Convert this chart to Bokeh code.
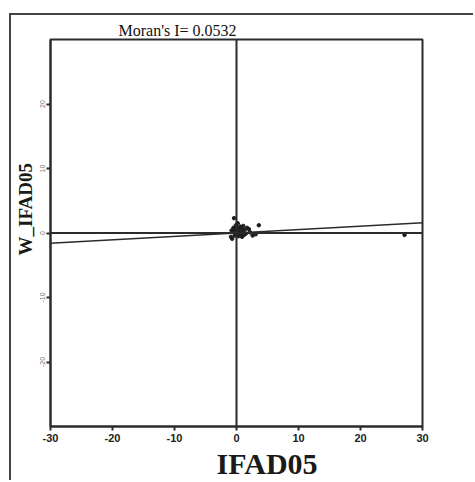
from bokeh.plotting import figure
from bokeh.models import Span, Slope, FixedTicker, Title, PrintfTickFormatter
from bokeh.embed import file_html
from bokeh.resources import INLINE

title_text = "Moran's I= 0.0532"
moran_i = 0.0532
x_label = "IFAD05"
y_label = "W_IFAD05"
x_ticks = [-30, -20, -10, 0, 10, 20, 30]
y_ticks = [-20, -10, 0, 10, 20]

ifad05 = [-0.9, -0.7, -0.6, -0.5, -0.4, -0.3, -0.2, -0.1, 0.0, 0.0, 0.1, 0.2, 0.3, 0.4,
          0.5, 0.6, 0.7, 0.8, 1.0, 1.1, 1.3, 1.5, 1.7, 2.0, 2.2, 2.6, 3.1, 3.6, -0.8,
          0.3, 0.9, 1.2, 27.1]
w_ifad05 = [-0.6, -0.9, 0.2, 0.8, 2.3, -0.4, 0.5, 1.2, -0.2, 0.9, 0.3, 1.5, -0.5, 0.6,
            0.1, 1.0, -0.3, 0.7, 0.2, 1.1, 0.5, -0.1, 0.8, 0.6, 0.1, -0.4, -0.2, 1.2, 0.4,
            0.0, -0.6, -0.3, -0.3]

DARK = "#2b2b2b"

p = figure(width=464, height=467, x_range=(-30, 30), y_range=(-30, 30),
           output_backend="svg", toolbar_location=None,
           min_border_left=36, min_border_right=53, min_border_top=24, min_border_bottom=56)
p.margin = (13, 0, 0, 9)
p.styles = {"border-top": "2px solid #444444", "border-left": "2px solid #444444"}
p.grid.visible = False
p.outline_line_color = DARK
p.outline_line_width = 2
p.background_fill_color = "white"
p.border_fill_color = "white"

# axes
p.xaxis.ticker = FixedTicker(ticks=x_ticks)
p.yaxis.ticker = FixedTicker(ticks=y_ticks)
for ax in (p.xaxis, p.yaxis):
    ax.formatter = PrintfTickFormatter(format="%d")
    ax.axis_line_color = DARK
    ax.axis_line_width = 2
    ax.major_tick_line_color = DARK
    ax.major_tick_line_width = 2
    ax.major_tick_in = 0
    ax.major_tick_out = 4
    ax.minor_tick_line_color = None
    ax.axis_label_standoff = 0
p.xaxis.major_label_text_font = "Liberation Sans"
p.xaxis.major_label_text_font_style = "bold"
p.xaxis.major_label_text_font_size = "11px"
p.xaxis.major_label_text_color = "#222222"
p.xaxis.major_label_standoff = 3
p.yaxis.major_label_text_font = "Liberation Sans"
p.yaxis.major_label_text_font_size = "7px"
p.yaxis.major_label_text_color = "#777777"
p.yaxis.major_label_orientation = "vertical"
p.yaxis.major_label_standoff = 2

# titles
p.title.text = title_text
p.title.text_font = "Liberation Serif"
p.title.text_font_style = "normal"
p.title.text_font_size = "16px"
p.title.text_color = "#111111"
p.title.align = "left"
p.title.offset = 68
p.title.standoff = 2

p.add_layout(Title(text=x_label, text_font="Liberation Serif", text_font_style="bold",
                   text_font_size="30px", text_color="#1a1a1a", align="left",
                   offset=166, standoff=0), "below")
p.add_layout(Title(text=y_label, text_font="Liberation Serif", text_font_style="bold",
                   text_font_size="19px", text_color="#1a1a1a", align="left",
                   offset=171, standoff=2), "left")

# cross lines and regression line
p.add_layout(Span(location=0, dimension="width", line_color=DARK, line_width=2))
p.add_layout(Span(location=0, dimension="height", line_color=DARK, line_width=2))
p.add_layout(Slope(gradient=moran_i, y_intercept=0, line_color=DARK, line_width=1.5))

p.scatter(ifad05, w_ifad05, size=3.5, color="#1e1e1e")

open("out.html", "w").write(file_html(p, INLINE))
